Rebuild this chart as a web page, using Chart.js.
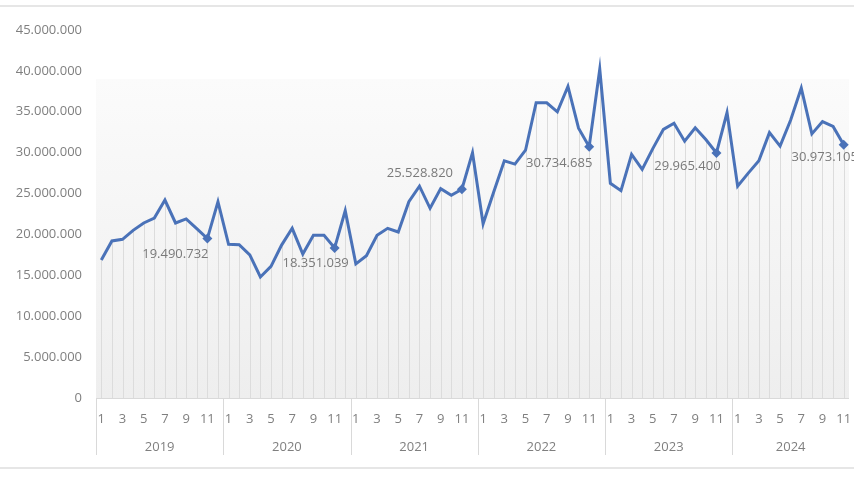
<!DOCTYPE html>
<html>
<head>
<meta charset="utf-8">
<script src="https://cdn.jsdelivr.net/npm/chart.js@4/dist/chart.umd.min.js"></script>
<style>
  html, body { margin: 0; padding: 0; background: #fff; }
  #wrap { position: relative; width: 854px; height: 480px; overflow: hidden; }
  .rule { position: absolute; left: 0; width: 854px; height: 2px; background: #e6e6e6; }
</style>
</head>
<body>
<div id="wrap">
  <canvas id="myChart" width="854" height="480"></canvas>
  <div class="rule" style="top:5px"></div>
  <div class="rule" style="top:467px"></div>
</div>
<script>
var years = ['2019', '2020', '2021', '2022', '2023', '2024'];
var monthsPerYear = [12, 12, 12, 12, 12, 11];
var values = [
    16870000, 19200000, 19400000, 20500000, 21400000, 22000000, 24200000, 21400000, 21900000, 20700000, 19490732, 24000000,
    18800000, 18750000, 17500000, 14800000, 16100000, 18700000, 20750000, 17600000, 19900000, 19900000, 18351039, 22900000,
    16400000, 17400000, 19900000, 20750000, 20300000, 24000000, 25900000, 23200000, 25600000, 24800000, 25528820, 30000000,
    21300000, 25200000, 29000000, 28600000, 30300000, 36100000, 36100000, 35000000, 38100000, 33000000, 30734685, 40200000,
    26250000, 25350000, 29800000, 27950000, 30500000, 32850000, 33600000, 31400000, 33050000, 31600000, 29965400, 34900000,
    25900000, 27500000, 29000000, 32450000, 30800000, 34000000, 37900000, 32300000, 33800000, 33200000, 30973105
];
var markedMonth = 11;
var yTicksMax = 45000000;
var yStep = 5000000;

// month labels and index of the labelled point per year
var labels = [];
var marked = [];
years.forEach(function (y, i) {
    for (var m = 1; m <= monthsPerYear[i]; m++) {
        if (m === markedMonth) marked.push(labels.length);
        labels.push(String(m));
    }
});

// label offsets from the diamond, one per year
var labelOffsets = [[-32, 16], [-19, 15], [-42, -16], [-30, 17], [-29, 13], [-19, 13]];

function fmt(v) {
    return Math.round(v).toString().replace(/\B(?=(\d{3})+(?!\d))/g, '.');
}

var font = "'Open Sans', 'Noto Sans', sans-serif";
var grey = '#7f7f7f';

var decor = {
    id: 'decor',
    beforeDatasetsDraw: function (chart) {
        var c = chart.ctx, a = chart.chartArea;
        var xs = chart.scales.x, ys = chart.scales.y;
        var meta = chart.getDatasetMeta(0);
        c.save();
        // plot background
        var top = ys.getPixelForValue(39000000);
        var g = c.createLinearGradient(0, top, 0, a.bottom);
        g.addColorStop(0, '#fbfbfb');
        g.addColorStop(1, '#eeeeee');
        c.fillStyle = g;
        c.fillRect(a.left, top, a.right - a.left, a.bottom - top);
        // drop lines
        c.strokeStyle = '#dcdcdc';
        c.lineWidth = 1;
        meta.data.forEach(function (p) {
            var x = Math.round(p.x) + 0.5;
            c.beginPath();
            c.moveTo(x, p.y);
            c.lineTo(x, a.bottom);
            c.stroke();
        });
        // axis line
        c.strokeStyle = '#d9d9d9';
        c.beginPath();
        c.moveTo(a.left, a.bottom + 0.5);
        c.lineTo(a.right, a.bottom + 0.5);
        c.stroke();
        // year groups
        var start = 0;
        var band = (a.right - a.left) / labels.length;
        c.fillStyle = grey;
        c.font = '13px ' + font;
        c.textAlign = 'center';
        c.textBaseline = 'middle';
        years.forEach(function (y, i) {
            var n = monthsPerYear[i];
            var x0 = xs.getPixelForValue(start) - band / 2;
            var x1 = xs.getPixelForValue(start + n - 1) + band / 2;
            var bx = Math.round(x0) + 0.5;
            c.beginPath();
            c.moveTo(bx, a.bottom);
            c.lineTo(bx, a.bottom + 57);
            c.stroke();
            c.fillText(y, (x0 + x1) / 2, a.bottom + 49);
            start += n;
        });
        c.restore();
    },
    afterDatasetsDraw: function (chart) {
        var c = chart.ctx;
        var meta = chart.getDatasetMeta(0);
        c.save();
        c.fillStyle = '#7a7a7a';
        c.font = '13px ' + font;
        c.textAlign = 'center';
        c.textBaseline = 'middle';
        marked.forEach(function (idx, i) {
            var p = meta.data[idx];
            c.fillText(fmt(values[idx]), p.x + labelOffsets[i][0], p.y + labelOffsets[i][1]);
        });
        c.restore();
    }
};

var ctx = document.getElementById('myChart').getContext('2d');
var chart = new Chart(ctx, {
    type: 'line',
    data: {
        labels: labels,
        datasets: [{
            label: '',
            data: values,
            borderColor: '#4a72b8',
            backgroundColor: '#4a72b8',
            borderWidth: 3,
            tension: 0,
            pointStyle: 'rectRot',
            pointRadius: values.map(function (v, i) { return marked.indexOf(i) >= 0 ? 5 : 0; }),
            pointBorderWidth: 0,
        }]
    },
    options: {
        responsive: false,
        animation: false,
        layout: { padding: { top: 30, right: 1, bottom: 0, left: 0 } },
        plugins: { legend: { display: false }, tooltip: { enabled: false } },
        scales: {
            x: {
                offset: true,
                grid: { display: false, drawTicks: false },
                border: { display: false },
                ticks: {
                    autoSkip: false,
                    maxRotation: 0,
                    padding: 13,
                    color: grey,
                    font: { size: 13, family: font },
                    callback: function (v, i) { return (+labels[i]) % 2 === 1 ? labels[i] : ''; }
                },
                afterFit: function (s) {
                    s.height = 82;
                    s.paddingLeft = 0;
                    s.paddingRight = 0;
                }
            },
            y: {
                min: 0,
                max: yTicksMax,
                grid: { display: false, drawTicks: false },
                border: { display: false },
                ticks: {
                    stepSize: yStep,
                    padding: 14,
                    color: grey,
                    font: { size: 13, family: font },
                    callback: function (v) { return fmt(v); }
                },
                afterFit: function (s) { s.width = 96; }
            }
        }
    },
    plugins: [decor]
});
</script>
</body>
</html>
